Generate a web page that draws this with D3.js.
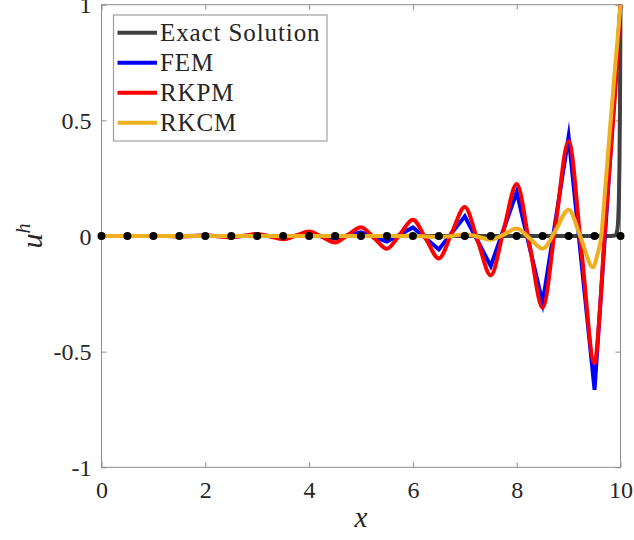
<!DOCTYPE html>
<html>
<head>
<meta charset="utf-8">
<script src="https://cdn.jsdelivr.net/npm/d3@7"></script>
<style>
  html, body { margin: 0; padding: 0; background: #ffffff; }
  svg { display: block; }
  text { font-family: "Liberation Serif", "Times New Roman", Times, serif; fill: #262626; }
</style>
</head>
<body>
<svg id="chart" width="634" height="540"></svg>
<script>
// Collocation / quadrature nodes (uniform spacing 0.5 on [0, 10])
const nodeX = [0, 0.5, 1, 1.5, 2, 2.5, 3, 3.5, 4, 4.5, 5, 5.5, 6, 6.5, 7, 7.5, 8, 8.5, 9, 9.5, 10];
const nodeY = [0, 0, 0, 0, 0, 0, 0, 0, 0, 0, 0, 0, 0, 0, 0, 0, 0, 0, 0, 0, 0];

// Exact solution: flat, then a sharp boundary layer at x = 10
const exactX = [0, 9.8, 9.85, 9.9, 9.93, 9.95, 9.96, 9.97, 9.98, 9.99, 10];
const exactY = [0, 0, 0.001, 0.003, 0.016, 0.05, 0.095, 0.17, 0.31, 0.55, 1];

// FEM: piecewise linear nodal solution
const femX = nodeX;
const femY = [0, 0, 0, 0, 0.001, -0.002, 0.003, -0.005, 0.007, -0.011, 0.016,
              -0.024, 0.037, -0.058, 0.085, -0.13, 0.19, -0.29, 0.43, -0.665, 1];

// RKPM: smooth oscillatory approximation
const rkpmX = [0, 0.25, 0.5, 0.75, 1, 1.25, 1.5, 1.75, 2, 2.25, 2.5, 2.75, 3, 3.25, 3.5, 3.75,
               4, 4.25, 4.5, 4.75, 5, 5.25, 5.5, 5.75, 6, 6.25, 6.5, 6.75, 7, 7.25, 7.5, 7.75,
               8, 8.25, 8.5, 8.75, 9, 9.25, 9.5, 9.6, 9.7, 9.8, 9.9, 10];
const rkpmY = [0, 0, 0, 0, 0.001, 0, -0.002, 0, 0.003, -0.001, -0.006, 0.001, 0.009, -0.002, -0.014, 0.002,
               0.019, -0.004, -0.028, 0.005, 0.038, -0.008, -0.055, 0.007, 0.07, -0.013, -0.097, 0.014,
               0.125, -0.022, -0.17, 0.027, 0.225, -0.042, -0.31, 0.05, 0.41, -0.07, -0.55, -0.33,
               0.03, 0.33, 0.63, 1];

// RKCM: much smaller oscillations near the layer
const rkcmX = [0, 6, 6.5, 6.75, 7, 7.25, 7.5, 7.75, 8, 8.25, 8.5, 8.75, 9, 9.23, 9.47,
               9.55, 9.63, 9.7, 9.8, 9.9, 10];
const rkcmY = [0, 0, -0.004, 0, 0.008, -0.003, -0.016, 0.006, 0.032, -0.01, -0.055, 0.025,
               0.114, -0.005, -0.135, -0.085, 0, 0.19, 0.47, 0.74, 1];

const seriesNames = ["Exact Solution", "FEM", "RKPM", "RKCM"];
const seriesColors = ["#404040", "#0000ff", "#ff0000", "#edb120"];

const xTicks = [0, 2, 4, 6, 8, 10];
const xTickLabels = ["0", "2", "4", "6", "8", "10"];
const yTicks = [-1, -0.5, 0, 0.5, 1];
const yTickLabels = ["-1", "-0.5", "0", "0.5", "1"];

const serifStack = '"Liberation Serif", "Times New Roman", Times, serif';

const svg = d3.select("#chart");
const plotLeft = 101.5, plotRight = 620.5, plotTop = 4.7, plotBottom = 467.3;

const x = d3.scaleLinear().domain([0, 10]).range([plotLeft, plotRight]);
const y = d3.scaleLinear().domain([-1, 1]).range([plotBottom, plotTop]);

const axisColor = "#8c8c8c";
const tickLen = 5;

// Axes with inward ticks on all four sides
const gBottom = svg.append("g").attr("transform", `translate(0,${plotBottom})`)
  .call(d3.axisBottom(x).tickValues(xTicks).tickFormat((d, i) => xTickLabels[i])
    .tickSizeInner(-tickLen).tickSizeOuter(0).tickPadding(14));
const gTop = svg.append("g").attr("transform", `translate(0,${plotTop})`)
  .call(d3.axisTop(x).tickValues(xTicks).tickFormat("").tickSizeInner(-tickLen).tickSizeOuter(0));
const gLeft = svg.append("g").attr("transform", `translate(${plotLeft},0)`)
  .call(d3.axisLeft(y).tickValues(yTicks).tickFormat((d, i) => yTickLabels[i])
    .tickSizeInner(-tickLen).tickSizeOuter(0).tickPadding(10));
const gRight = svg.append("g").attr("transform", `translate(${plotRight},0)`)
  .call(d3.axisRight(y).tickValues(yTicks).tickFormat("").tickSizeInner(-tickLen).tickSizeOuter(0));

[gBottom, gTop, gLeft, gRight].forEach(g => {
  g.attr("font-family", null);
  g.select(".domain").remove();
  g.selectAll(".tick line").attr("stroke", axisColor).attr("stroke-width", 1);
  g.selectAll(".tick text").attr("fill", "#262626")
    .style("font-family", serifStack).style("font-size", "24px");
});
gBottom.selectAll(".tick text").attr("dy", "0.71em");
gLeft.selectAll(".tick text").attr("dy", "0.34em");

// Axes box
svg.append("rect")
  .attr("x", plotLeft).attr("y", plotTop)
  .attr("width", plotRight - plotLeft).attr("height", plotBottom - plotTop)
  .attr("fill", "none").attr("stroke", axisColor).attr("stroke-width", 1);

const plot = svg.append("g");

const seriesData = [
  { xs: exactX, ys: exactY, curve: d3.curveMonotoneX },
  { xs: femX, ys: femY, curve: d3.curveLinear },
  { xs: rkpmX, ys: rkpmY, curve: d3.curveMonotoneX },
  { xs: rkcmX, ys: rkcmY, curve: d3.curveMonotoneX }
];

seriesData.forEach((s, i) => {
  const pts = s.xs.map((d, k) => [d, s.ys[k]]);
  const line = d3.line().x(d => x(d[0])).y(d => y(d[1])).curve(s.curve);
  plot.append("path")
    .attr("d", line(pts))
    .attr("fill", "none")
    .attr("stroke", seriesColors[i])
    .attr("stroke-width", 4)
    .attr("stroke-linejoin", i === 1 ? "miter" : "round")
    .attr("stroke-miterlimit", 10)
    .attr("stroke-linecap", "butt");
});

// Nodes
plot.selectAll("circle.node")
  .data(nodeX.map((d, k) => [d, nodeY[k]]))
  .join("circle")
  .attr("class", "node")
  .attr("cx", d => x(d[0]))
  .attr("cy", d => y(d[1]))
  .attr("r", 4)
  .attr("fill", "#000000");

// Legend
const legend = svg.append("g");
legend.append("rect")
  .attr("x", 113.5).attr("y", 15).attr("width", 213.5).attr("height", 126)
  .attr("fill", "#ffffff").attr("stroke", "#a0a0a0").attr("stroke-width", 1.2);
seriesNames.forEach((name, i) => {
  const ly = 32.7 + i * 30;
  legend.append("line")
    .attr("x1", 117.5).attr("x2", 157)
    .attr("y1", ly).attr("y2", ly)
    .attr("stroke", seriesColors[i]).attr("stroke-width", 4);
  legend.append("text")
    .attr("x", 160).attr("y", ly + 8.5)
    .style("font-family", serifStack)
    .style("font-size", "25px")
    .style("letter-spacing", "0.9px")
    .text(name);
});

// Axis labels
svg.append("text")
  .attr("x", (plotLeft + plotRight) / 2).attr("y", 527)
  .attr("text-anchor", "middle")
  .style("font-family", serifStack)
  .style("font-size", "29px").style("font-style", "italic")
  .text("x");

const yl = svg.append("text")
  .attr("transform", `translate(42,236) rotate(-90)`)
  .attr("text-anchor", "middle")
  .style("font-family", serifStack)
  .style("font-size", "30px").style("font-style", "italic");
yl.append("tspan").text("u");
yl.append("tspan").attr("dy", -12).style("font-size", "20px").text("h");
</script>
</body>
</html>
